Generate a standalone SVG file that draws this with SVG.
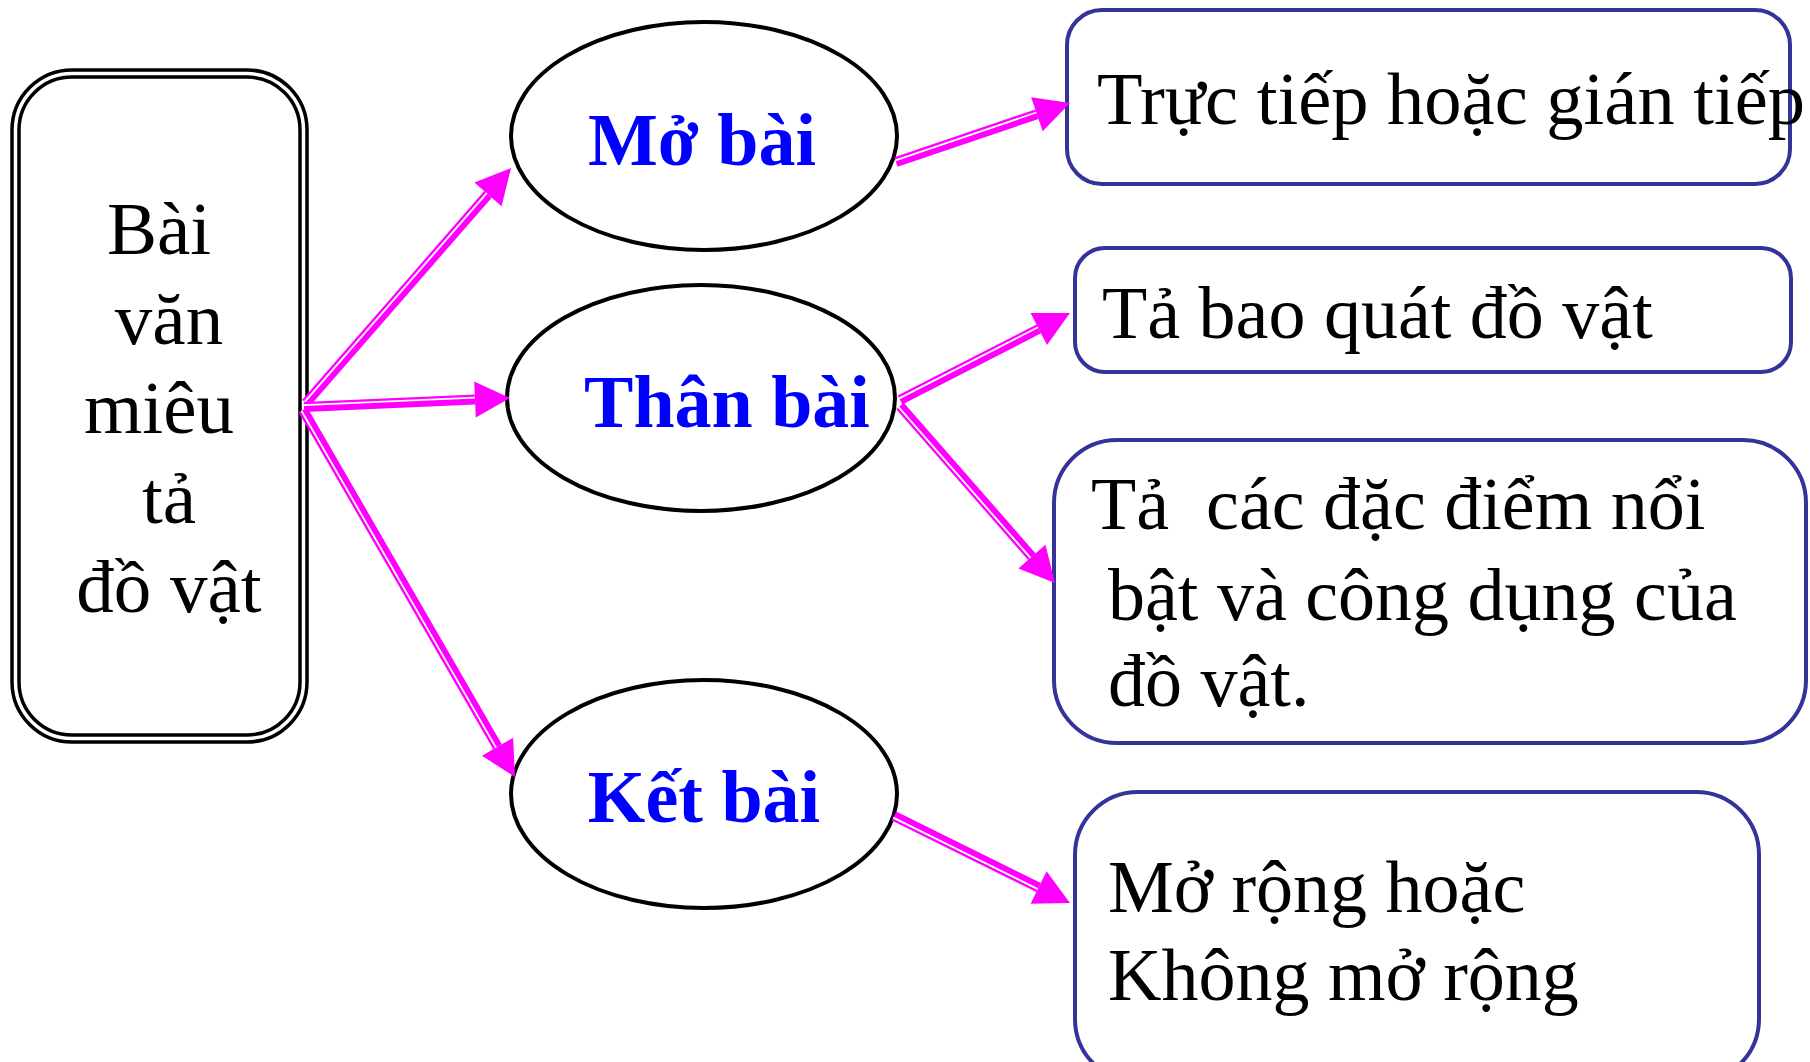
<svg xmlns="http://www.w3.org/2000/svg" width="1810" height="1062" viewBox="0 0 1810 1062">
<style>
.t{font-family:"Liberation Serif","Times New Roman",serif;font-size:75px;fill:#000}
.e{font-family:"Liberation Serif","Times New Roman",serif;font-size:74px;font-weight:bold;fill:#0000FF;text-anchor:middle}
.ell{fill:#fff;stroke:#000;stroke-width:4}
.box{fill:#fff;stroke:#333399;stroke-width:4}
.dbl{fill:none;stroke:#000;stroke-width:3.5}
.ln{stroke:#FF00FF;stroke-width:10;fill:none}
.gap{stroke:#fff;stroke-width:1.8;fill:none}
</style>
<defs>
<marker id="ah" markerUnits="userSpaceOnUse" markerWidth="40" markerHeight="40" viewBox="0 -20 40 40" refX="0" refY="0" orient="auto" overflow="visible">
<path d="M0,-18 L35,0 L0,18 z" fill="#FF00FF"/>
</marker>
</defs>
<rect width="1810" height="1062" fill="#fff"/>
<g id="root">
<rect class="dbl" x="12" y="70" width="295" height="672" rx="60"/>
<rect class="dbl" x="19" y="77" width="281" height="658" rx="53"/>
<text class="t" text-anchor="middle"><tspan x="159" y="254">Bài</tspan><tspan x="169" y="344">văn</tspan><tspan x="159" y="433">miêu</tspan><tspan x="169" y="523">tả</tspan><tspan x="169" y="612">đồ vật</tspan></text>
</g>
<g id="mobai">
<ellipse class="ell" cx="704" cy="136" rx="193" ry="114"/>
<text class="e" x="702" y="165">Mở bài</text>
</g>
<g id="thanbai">
<ellipse class="ell" cx="701" cy="398" rx="194" ry="113"/>
<text class="e" x="727" y="427">Thân bài</text>
</g>
<g id="ketbai">
<ellipse class="ell" cx="704" cy="794" rx="193" ry="114"/>
<text class="e" x="704" y="822">Kết bài</text>
</g>
<g id="box1">
<rect class="box" x="1067" y="10" width="723" height="174" rx="35"/>
<text class="t" x="1097" y="124" style="font-size:74.5px">Trực tiếp hoặc gián tiếp</text>
</g>
<g id="box2">
<rect class="box" x="1075" y="248" width="716" height="124" rx="30"/>
<text class="t" x="1102" y="338" style="font-size:74px">Tả bao quát đồ vật</text>
</g>
<g id="box3">
<rect class="box" x="1054" y="440" width="752" height="303" rx="63"/>
<text class="t" style="font-size:74px" xml:space="preserve"><tspan x="1091" y="529">Tả  các đặc điểm nổi</tspan><tspan x="1108" y="620">bật và công dụng của</tspan><tspan x="1108" y="706">đồ vật.</tspan></text>
</g>
<g id="box4">
<rect class="box" x="1075" y="792" width="684" height="290" rx="63"/>
<text class="t" style="font-size:74px"><tspan x="1108" y="912">Mở rộng hoặc</tspan><tspan x="1108" y="1000">Không mở rộng</tspan></text>
</g>
<g id="connectors">
<path class="ln" d="M306,403 L488,194.4" marker-end="url(#ah)"/>
<path class="gap" d="M304.7,401.8 L486.7,193.2"/>
<path class="ln" d="M304,407 L475,399.5" marker-end="url(#ah)"/>
<path class="gap" d="M304,405.2 L475,397.7"/>
<path class="ln" d="M303,410 L497.5,746.7" marker-end="url(#ah)"/>
<path class="gap" d="M301.5,410.9 L496,747.6"/>
<path class="ln" d="M896,162 L1036.9,114.2" marker-end="url(#ah)"/>
<path class="gap" d="M895.4,160.3 L1036.3,112.5"/>
<path class="ln" d="M900,400 L1038.8,328.9" marker-end="url(#ah)"/>
<path class="gap" d="M899.2,398.4 L1038,327.3"/>
<path class="ln" d="M900,406 L1031.9,556.7" marker-end="url(#ah)"/>
<path class="gap" d="M898.6,407.2 L1030.5,557.9"/>
<path class="ln" d="M894,816 L1038.6,887.5" marker-end="url(#ah)"/>
<path class="gap" d="M893.2,817.6 L1037.8,889.1"/>
</g>
</svg>
